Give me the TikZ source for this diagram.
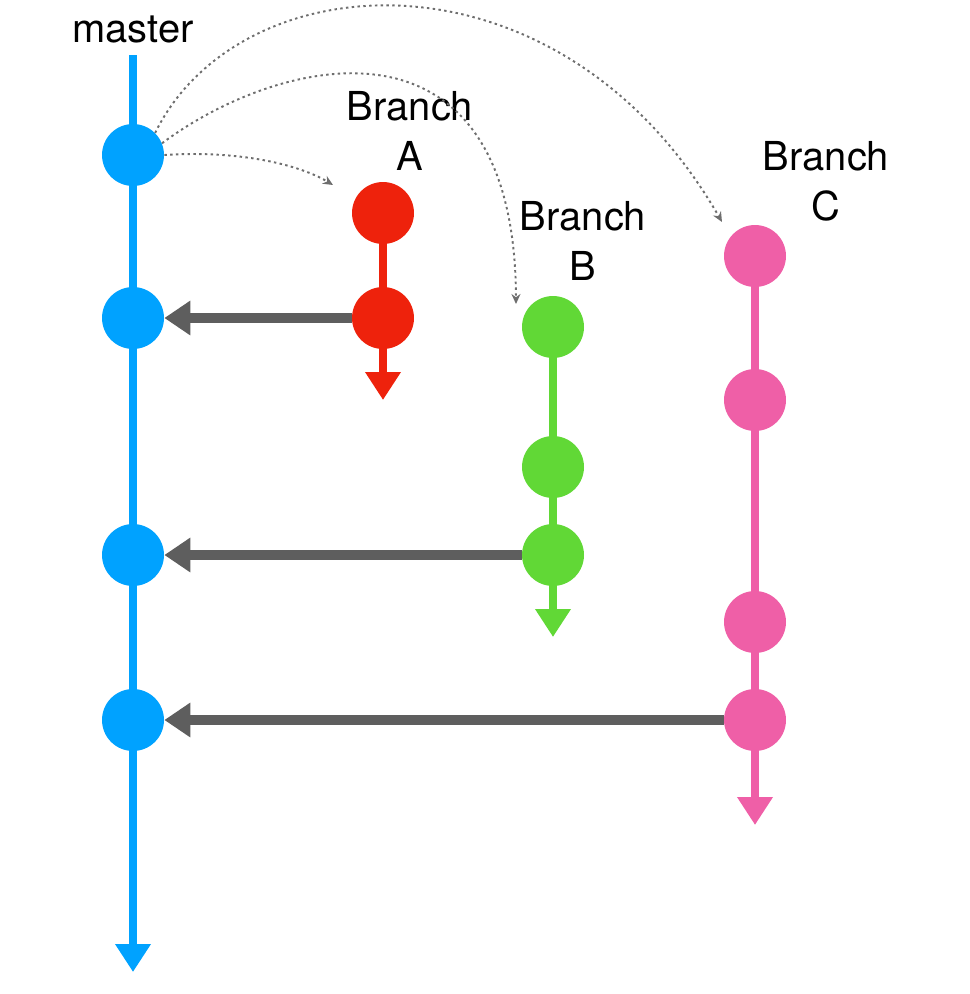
\documentclass[tikz,border=0pt]{standalone}
\usepackage{fontspec}
\setmainfont{TeX Gyre Heros}
\usepackage{xcolor}
\definecolor{masterblue}{HTML}{00A2FF}
\definecolor{branchred}{HTML}{EE220C}
\definecolor{branchgreen}{HTML}{61D836}
\definecolor{branchpink}{HTML}{EF5FA7}
\definecolor{mergegray}{HTML}{5E5E5E}
\usetikzlibrary{arrows.meta}
\usetikzlibrary{backgrounds}

\begin{document}
\begin{tikzpicture}[x=0.02cm, y=-0.02cm,
  commit/.style={circle, minimum size=1.24cm, inner sep=0pt},
  branchline/.style={line width=0.16cm, -{Triangle[width=0.68cm, length=0.56cm]}},
  merge/.style={mergegray, line width=0.21cm, -{Triangle[width=0.66cm, length=0.52cm]}},
  fork/.style={mergegray!90, line width=1.1pt, dash pattern=on 1.4pt off 1.9pt, -{Stealth[width=0.18cm, length=0.2cm]}},
  label/.style={font=\fontsize{22.7}{28.3}\selectfont, align=center, anchor=base}]

\useasboundingbox (0,0) rectangle (970,994);

% master
  \node[label] (mlabel) at (133,42) {master};
  \coordinate (mtop) at (133,55);
  \coordinate (mend) at (133,972);
  \node[commit, fill=masterblue] (m1) at (133,155) {};
  \node[commit, fill=masterblue] (m2) at (133,318) {};
  \node[commit, fill=masterblue] (m3) at (133,555) {};
  \node[commit, fill=masterblue] (m4) at (133,720) {};

% Branch A
  \node[label] (alabel) at (410,170) {Branch\\A};
  \coordinate (aend) at (383,400);
  \coordinate (atip) at (333,185);
  \node[commit, fill=branchred] (a1) at (383,213) {};
  \node[commit, fill=branchred] (a2) at (383,318) {};

% Branch B
  \node[label] (blabel) at (583,280) {Branch\\B};
  \coordinate (bend) at (553,637);
  \coordinate (btip) at (516,304);
  \node[commit, fill=branchgreen] (b1) at (553,327) {};
  \node[commit, fill=branchgreen] (b2) at (553,467) {};
  \node[commit, fill=branchgreen] (b3) at (553,555) {};

% Branch C
  \node[label] (clabel) at (826,220) {Branch\\C};
  \coordinate (cend) at (755,825);
  \coordinate (ctip) at (722,222);
  \node[commit, fill=branchpink] (c1) at (755,256) {};
  \node[commit, fill=branchpink] (c2) at (755,400) {};
  \node[commit, fill=branchpink] (c3) at (755,622) {};
  \node[commit, fill=branchpink] (c4) at (755,720) {};

\begin{scope}[on background layer]
  \draw[branchline, masterblue] (mtop) -- (mend);
  \draw[branchline, branchred] (a1.center) -- (aend);
  \draw[branchline, branchgreen] (b1.center) -- (bend);
  \draw[branchline, branchpink] (c1.center) -- (cend);
\end{scope}

% merges
  \draw[merge] (a2) -- (m2);
  \draw[merge] (b3) -- (m3);
  \draw[merge] (c4) -- (m4);

% forks
  \draw[fork] (m1.east) .. controls (240,150) and (300,165) .. (atip);
  \draw[fork] (m1.22) .. controls (280,55) and (515,0) .. (btip);
  \draw[fork] (m1.45) .. controls (240,-40) and (560,-60) .. (ctip);

\end{tikzpicture}
\end{document}
